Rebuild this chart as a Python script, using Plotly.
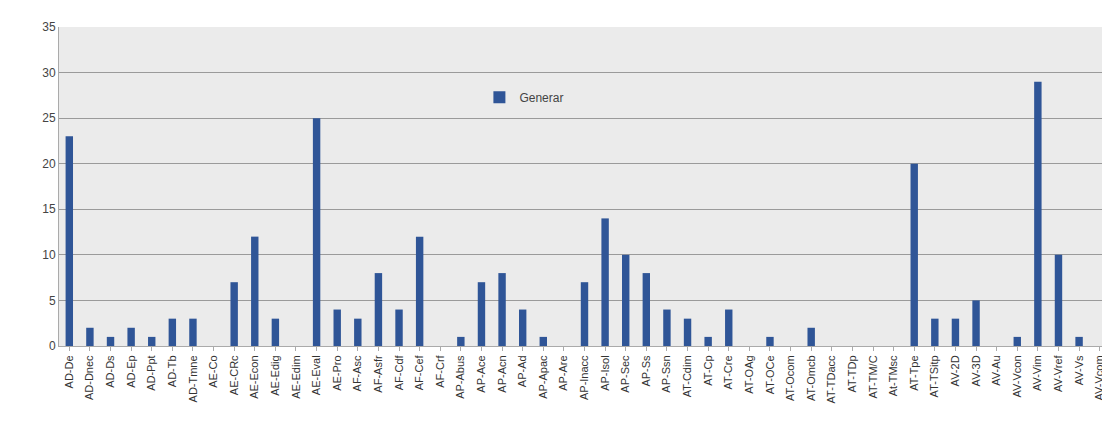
import plotly.graph_objects as go

categories = ["AD-De", "AD-Dnec", "AD-Ds", "AD-Ep", "AD-Ppt", "AD-Tb", "AD-Tmne", "AE-Co", "AE-CRc",
              "AE-Econ", "AE-Edig", "AE-Edim", "AE-Eval", "AE-Pro", "AF-Asc", "AF-Asfr", "AF-Cdf",
              "AF-Cef", "AF-Crf", "AP-Abus", "AP-Ace", "AP-Acn", "AP-Ad", "AP-Apac", "AP-Are",
              "AP-Inacc", "AP-Isol", "AP-Sec", "AP-Ss", "AP-Ssn", "AT-Cdim", "AT-Cp", "AT-Cre",
              "AT-OAg", "AT-OCe", "AT-Ocom", "AT-Omcb", "AT-TDacc", "AT-TDp", "AT-TM/C", "At-TMsc",
              "AT-Tpe", "AT-TSitp", "AV-2D", "AV-3D", "AV-Au", "AV-Vcon", "AV-Vim", "AV-Vref",
              "AV-Vs", "AV-Vcom"]
generar = [23, 2, 1, 2, 1, 3, 3, 0, 7,
           12, 3, 0, 25, 4, 3, 8, 4,
           12, 0, 1, 7, 8, 4, 1, 0,
           7, 14, 10, 8, 4, 3, 1, 4,
           0, 1, 0, 2, 0, 0, 0, 0,
           20, 3, 3, 5, 0, 1, 29, 10,
           1, 0]
y_ticks = [0, 5, 10, 15, 20, 25, 30, 35]

fig = go.Figure()
fig.add_trace(go.Bar(x=categories, y=generar, name="Generar",
                     marker=dict(color="#2f5597", line=dict(width=0))))

fig.update_layout(
    width=1102, height=430,
    margin=dict(l=51, r=0, t=19, b=92),
    paper_bgcolor="white",
    plot_bgcolor="#ebebeb",
    bargap=0.64,
    font=dict(family="Liberation Sans, Arial, sans-serif", color="#333333"),
    showlegend=True,
    legend=dict(x=0.40, y=0.78, xanchor="left", yanchor="middle",
                bgcolor="rgba(0,0,0,0)", font=dict(size=12, color="#444444"),
                itemwidth=30),
    xaxis=dict(tickangle=-90, tickfont=dict(size=11, color="#333333"),
               showgrid=False, showline=True, linecolor="#aaaaaa",
               ticks="outside", ticklen=4, tickcolor="#aaaaaa", automargin=False),
    yaxis=dict(range=[0, 35], tickvals=y_ticks, showgrid=True, gridcolor="#9a9a9a",
               gridwidth=1, zeroline=False, tickfont=dict(size=12, color="#444444"),
               showline=True, linecolor="#aaaaaa", ticks="", automargin=False),
)

fig.write_html("out.html")
